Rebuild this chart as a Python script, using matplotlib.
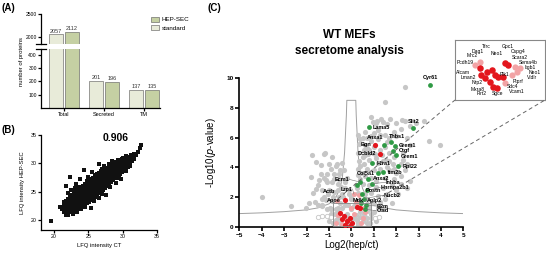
import matplotlib
matplotlib.use("Agg")
import matplotlib.pyplot as plt
from matplotlib.lines import Line2D
from matplotlib.patches import Patch, Rectangle

plt.rcParams["font.family"] = ["Liberation Sans", "DejaVu Sans"]

# ---------------------------------------------------------------------------
# Data
# ---------------------------------------------------------------------------

# (A) number of proteins
A_GROUPS = ["Total", "Secreted", "TM"]
A_STANDARD = [2057, 201, 137]
A_HEPSEC = [2112, 196, 135]

# (B) LFQ intensities, dense core given as columns of y values
B_CORE_X = [21.6, 21.9, 22.2, 22.5, 22.8, 23.1, 23.4, 23.7, 24.0, 24.3, 24.6,
            24.9, 25.2, 25.5, 25.8, 26.1, 26.4, 26.7, 27.0, 27.3, 27.6, 27.9,
            28.2, 28.5, 28.8, 29.1, 29.4, 29.7, 30.0, 30.3, 30.6, 30.9, 31.2, 31.5]
B_CORE_Y = [
    [21.5, 22.2], [21.3, 21.9, 22.6, 23.2], [21.6, 22.2, 22.8, 23.5],
    [21.5, 22.0, 22.6, 23.1, 23.7, 24.3], [21.8, 22.4, 23.0, 23.6, 24.2],
    [21.9, 22.5, 23.1, 23.7, 24.3, 24.9], [22.2, 22.8, 23.4, 24.0, 24.6],
    [22.3, 22.9, 23.5, 24.1, 24.7, 25.3], [22.7, 23.3, 23.9, 24.5, 25.1, 25.7],
    [22.8, 23.4, 24.0, 24.6, 25.2, 25.8], [23.2, 23.8, 24.4, 25.0, 25.6, 26.2],
    [23.4, 24.0, 24.6, 25.2, 25.8, 26.4], [23.7, 24.3, 24.9, 25.5, 26.1, 26.7],
    [24.0, 24.6, 25.2, 25.8, 26.4, 27.0], [24.3, 24.9, 25.5, 26.1, 26.7, 27.3],
    [24.5, 25.1, 25.7, 26.3, 26.9, 27.5], [24.9, 25.5, 26.1, 26.7, 27.3, 27.9],
    [25.1, 25.7, 26.3, 26.9, 27.5, 28.1], [25.5, 26.1, 26.7, 27.3, 27.9, 28.4],
    [25.8, 26.4, 27.0, 27.6, 28.2, 28.7], [26.1, 26.7, 27.3, 27.9, 28.5, 29.0],
    [26.5, 27.1, 27.7, 28.3, 28.9], [26.8, 27.4, 28.0, 28.6, 29.2],
    [27.2, 27.8, 28.4, 29.0, 29.5], [27.5, 28.1, 28.7, 29.3, 29.8],
    [27.9, 28.5, 29.1, 29.6, 30.1], [28.3, 28.9, 29.4, 29.9],
    [28.7, 29.2, 29.7, 30.2], [29.1, 29.6, 30.1, 30.5], [29.5, 30.0, 30.4],
    [29.9, 30.3, 30.7], [30.2, 30.6, 31.0], [30.5, 30.9], [30.9, 31.2],
]
B_OUT_X = [19.6, 21.2, 21.7, 22.3, 23.2, 24.4, 26.6, 27.5, 25.4, 29.7, 31.2, 32.2,
           32.5, 32.7, 22.0, 23.0, 25.0, 27.3, 28.5, 30.5, 29.0, 30.8, 26.5, 24.0,
           21.8, 22.8, 23.5, 24.8, 26.0, 27.0, 28.0, 29.3, 30.0, 24.5, 25.8, 27.0,
           28.2, 29.5, 30.5, 31.0, 22.5, 23.8, 25.6, 22.0, 23.4, 31.6, 31.9, 26.2,
           21.4, 20.9]
B_OUT_Y = [19.8, 21.9, 26.0, 27.6, 26.4, 28.8, 29.8, 24.4, 22.1, 27.3, 31.4, 32.0,
           32.7, 33.3, 24.8, 25.6, 27.6, 29.6, 30.4, 31.2, 26.5, 29.3, 23.8, 21.9,
           20.9, 21.0, 25.8, 26.9, 28.0, 29.0, 29.9, 30.6, 31.0, 22.3, 23.4, 24.6,
           25.8, 27.4, 28.6, 29.5, 25.2, 27.2, 28.5, 20.8, 21.4, 31.6, 31.5, 24.0,
           23.2, 22.3]
B_R = "0.906"

# (C) volcano plot
C_GREY_X = [-4.0, -2.68, -2.03, -1.74, -1.19, -1.59, -1.37, -1.0, -1.59, -1.37,
            -1.07, -0.78, -1.15, -0.85, -0.55, -1.29, -1.0, -0.78, -1.15, -0.85,
            -0.55, -0.48, -0.33, -0.62, -0.85, -1.22, -1.82, -1.45, -1.07, -0.78,
            -0.55, -1.2, -0.95, -1.3, -0.7, -0.6, -0.3, -0.2, -0.1, -0.5,
            2.38, 1.49, 0.86, 1.16, 1.43, 1.72, 2.28, 3.24, 3.47, 3.96, 0.98, 1.31,
            0.6, 1.0, 1.2, 1.5, 1.9, 2.2, 2.6, 2.9, 0.4, 0.6, 0.8, 1.2, 1.5, 1.7,
            0.5, 0.8, 1.1, 1.4, 1.7, 2.3, 0.4, 0.7, 1.0, 1.3, 1.7, 2.0, 2.4, 0.3,
            0.6, 0.9, 1.1, 1.5, 1.9, 2.2, 0.2, 0.5, 0.8, 1.1, 1.4, 1.8, 2.2, 0.3,
            0.6, 0.9, 1.2, 1.6, 2.0, 0.4, 0.7, 1.0, 1.3, -0.4, -0.1, 0.0, -0.3,
            0.1, -0.9, -0.6, -0.4, -0.2, 0.0, 0.2, 0.4, 0.6, 0.8, -0.7, -0.5, 0.0,
            0.3, 0.5, 0.7, -0.2, 0.9, -1.1, -1.3, -1.5,
            0.3, 0.35, 0.3, 0.35, 0.3, 0.45, 0.4, 0.25, 0.5, 0.55, 0.6, 0.55, 0.7,
            0.7, 0.75, 0.9, 0.95, 1.05, 1.0, 1.3, 1.6, 1.2, 1.35, 1.55, 1.9, 1.6,
            1.85, 2.5, 2.3, 2.6, 2.5, 2.0, 1.7, 1.3, 0.9, 1.1, 1.6, 2.0, 2.4, 1.9,
            2.2, 2.6, 2.5, 2.1, 1.5, 1.8, 1.2, 1.0, 1.4, 0.8,
            -0.8, -0.6, -0.3, -0.1, 0.1, 0.25, 0.4, 0.55, 0.7, 0.85, 0.3, -0.15,
            -0.6, -0.75, 0.2, 0.0, 0.7, 0.9, 1.1, -1.0, -0.9,
            -1.7, -1.5, -1.2, -0.9, -0.7, -0.4, -0.5, -0.3, -0.6, -0.8, -1.05,
            -1.3, -1.6, -1.9, -0.35, -0.15]
C_GREY_Y = [2.0, 1.4, 1.25, 4.8, 4.98, 4.35, 4.13, 4.25, 2.58, 3.58,
            3.58, 3.58, 3.13, 3.02, 3.25, 2.47, 2.47, 2.35, 1.8, 1.75,
            2.02, 2.69, 3.8, 4.25, 4.69, 4.91, 3.35, 3.13, 3.02, 3.25,
            3.58, 2.0, 1.3, 1.5, 1.2, 2.9, 2.6, 3.3, 2.2, 1.6,
            9.4, 8.36, 7.35, 7.13, 7.02, 7.25, 7.18, 7.13, 5.75, 5.53, 7.02, 7.25,
            6.4, 6.3, 6.5, 6.2, 6.4, 6.6, 6.8, 6.95, 5.9, 5.5, 5.2, 5.9, 5.4, 5.0,
            4.7, 4.5, 4.6, 4.4, 4.4, 4.5, 4.1, 3.9, 3.8, 3.9, 3.8, 3.6, 3.8, 3.5,
            3.4, 3.3, 3.1, 3.3, 3.2, 3.4, 2.8, 2.9, 2.8, 2.7, 2.6, 2.8, 2.9, 2.3,
            2.2, 2.3, 2.1, 2.2, 2.5, 1.7, 1.8, 1.6, 1.7, 2.2, 2.5, 1.9, 1.5,
            1.4, 1.2, 1.0, 1.3, 0.9, 1.2, 0.8, 1.0, 0.7, 1.2, 0.5, 0.3, 0.4,
            0.3, 0.4, 0.3, 0.2, 0.6, 1.2, 1.4, 1.5,
            6.2, 5.6, 5.0, 4.4, 3.9, 3.6, 3.2, 2.6, 6.0, 5.2, 4.8, 4.2, 6.0,
            5.3, 4.9, 5.8, 5.0, 4.9, 5.4, 5.2, 5.7, 4.3, 4.8, 4.5, 4.7, 4.0,
            4.2, 4.2, 5.0, 5.5, 6.0, 6.1, 6.0, 6.2, 6.1, 7.0, 6.9, 7.0, 7.1, 3.9,
            4.2, 3.1, 2.6, 2.2, 1.9, 1.6, 1.3, 1.0, 1.2, 1.4,
            0.3, 0.6, 0.7, 0.5, 0.6, 0.5, 0.7, 0.9, 0.6, 0.3, 0.15, 0.15,
            1.3, 0.9, 1.7, 2.0, 1.1, 0.9, 0.4, 0.4, 0.9,
            2.3, 2.8, 3.3, 3.9, 4.1, 4.3, 3.8, 3.0, 2.5, 2.0, 2.2,
            1.9, 1.7, 1.6, 2.0, 1.5]
C_OPEN_X = [-1.5, -1.3, -1.1, -0.9, 1.05, 1.25]
C_OPEN_Y = [0.7, 0.75, 0.72, 0.65, 0.6, 0.65]
C_PINK_X = [0.12, 0.19, 0.34, -0.03, 0.56, -0.6, -0.2, 0.1, 0.5, 0.6, -0.4, 0.3,
            -0.65, 0.45, -0.7]
C_PINK_Y = [2.2, 1.69, 2.13, 1.25, 1.25, 0.8, 0.5, 0.9, 0.6, 1.0, 0.2, 1.4,
            1.72, 0.25, 0.3]
C_RED_X = [1.08, 1.28, -0.3, -0.51, -0.33, -0.06, -0.18, 0.04, -0.30, 0.24, 0.38,
           -0.05, -0.42]
C_RED_Y = [5.53, 4.91, 1.8, 0.91, 0.73, 0.58, 0.40, 0.25, 0.15, 1.31, 1.25, 0.08,
           0.55]
C_GREEN_X = [3.51, 2.75, 0.79, 1.75, 1.46, 1.95, 1.85, 2.0, 2.08, 0.94, 1.43, 1.2,
             0.76, 0.38, 0.94, 0.71, 0.49, 0.56, 0.42, 0.64, 0.6, 0.27]
C_GREEN_Y = [9.53, 6.65, 6.69, 5.69, 5.47, 5.42, 5.1, 4.8, 4.07, 4.29, 3.69, 3.62,
             3.25, 3.02, 2.91, 2.47, 2.24, 1.91, 1.62, 1.47, 1.2, 2.8]

# labels: name, text position, alignment, optional leader-line end
C_LABEL_NAMES = ["Cyr61", "Slit2", "Lama5", "Thbs1", "Anxa1", "Grem1", "Ctgf",
                 "Grem1", "Rpl22", "Htra1", "Itm2b", "Col5a1", "Anxa2", "Ecm1",
                 "Inhba", "Hnrnpa2b1", "Postn", "Nucb2", "Aplp2", "B2m", "Ctsd",
                 "Bgn", "Dcbld2", "Lrp1", "Actb", "Apoe", "Mdk"]
C_LABEL_X = [3.55, 2.8, 0.95, 2.05, 1.08, 2.1, 2.1, 2.2, 2.3, 1.12, 1.6, 1.05,
             0.95, -0.1, 1.55, 1.3, 0.62, 1.45, 0.7, 1.15, 1.12, 0.9, 1.1,
             0.05, -0.7, -0.45, 0.05]
C_LABEL_Y = [10.0, 7.05, 6.69, 6.07, 6.02, 5.5, 5.15, 4.75, 4.07, 4.29, 3.69, 3.62,
             3.25, 3.2, 3.0, 2.65, 2.45, 2.13, 1.8, 1.4, 1.09, 5.53, 4.91,
             2.55, 2.35, 1.75, 1.75]
C_LABEL_HA = ["center", "center", "left", "center", "center", "left", "left",
              "left", "left", "left", "left", "right", "left", "right", "left",
              "left", "left", "left", "left", "left", "left", "right", "right",
              "right", "right", "right", "left"]
C_LEADER_X = [None] * 13 + [0.38, 0.94, 0.71, None, 0.56, 0.42, 0.64, 0.6,
                            None, None, 0.12, None, None, None]
C_LEADER_Y = [None] * 13 + [3.02, 2.91, 2.47, None, 1.91, 1.62, 1.47, 1.2,
                            None, None, 2.2, None, None, None]

# significance curves
C_CURVE_X = [-5, -4, -3, -2, -1.5, -1.0, -0.7, -0.5, -0.4, -0.3, -0.22, -0.2,
             0.2, 0.22, 0.3, 0.4, 0.5, 0.7, 1.0, 1.5, 2, 3, 4, 5]
C_CURVE_Y = [0.9, 0.95, 1.03, 1.15, 1.28, 1.55, 1.95, 2.6, 3.3, 5.0, 7.5, 8.5,
             8.5, 7.5, 5.0, 3.3, 2.6, 1.95, 1.55, 1.28, 1.15, 1.03, 0.95, 0.9]
C_BOX = (-0.83, 0.05, 0.87, 1.6)

# inset (zoom of the small box)
IN_RED_X = [-0.36, -0.23, -0.14, -0.07, -0.02, -0.26, -0.17, -0.11, -0.04, 0.11,
            0.17, 0.08, -0.33]
IN_RED_Y = [0.87, 0.78, 0.83, 0.70, 0.65, 0.61, 0.52, 0.39, 0.35, 1.0, 0.95,
            0.65, 0.70]
IN_PINK_X = [0.30, 0.40, 0.34, 0.11, -0.45, 0.24, -0.36]
IN_PINK_Y = [0.91, 0.87, 0.78, 0.48, 0.95, 0.70, 1.04]
IN_NAMES = ["Tfrc", "Gpc1", "Dag1", "Neo1", "Cspg4", "Mrc2", "Scara2", "Pcdh19",
            "Sema4b", "Itgb1", "Alcam", "Neo1", "Plk1", "Vldlr", "Lman2", "Ptprf",
            "Nrp2", "Sdc4", "Mxra8", "Vcam1", "Flrt2", "Sgce"]
IN_TX = [-0.23, 0.17, -0.40, -0.04, 0.36, -0.51, 0.40, -0.64, 0.55, 0.59, -0.68,
         0.68, 0.11, 0.62, -0.58, 0.36, -0.41, 0.25, -0.41, 0.34, -0.32, -0.02]
IN_TY = [1.43, 1.42, 1.29, 1.26, 1.29, 1.19, 1.16, 1.01, 1.01, 0.88, 0.77, 0.75,
         0.72, 0.62, 0.64, 0.52, 0.49, 0.39, 0.33, 0.26, 0.21, 0.21]

GREY = "#c6c6c6"
PINK = "#f2a3a5"
RED = "#e3161d"
GREEN = "#2f9a45"
STD_COL = "#e8ebd9"
HEP_COL = "#c5d0a3"

W, H = 546, 254


def fx(px):
    return px / W


def fy(py):
    return 1 - py / H


def _style(ax, lw=0.9, size=3.8):
    for s in ("top", "right"):
        ax.spines[s].set_visible(False)
    for s in ("left", "bottom"):
        ax.spines[s].set_linewidth(lw)
    ax.tick_params(width=lw, length=2, labelsize=size, pad=1)


# ---------------------------------------------------------------------------
# Panel A
# ---------------------------------------------------------------------------

def _panel_a(fig):
    ax_hi = fig.add_axes([fx(41), fy(43.9), fx(119), 29.9 / H])
    ax_lo = fig.add_axes([fx(41), fy(108), fx(119), 59 / H])
    pos = list(range(len(A_GROUPS)))
    for ax in (ax_hi, ax_lo):
        ax.bar([p - 0.2 for p in pos], A_STANDARD, width=0.33, color=STD_COL,
               edgecolor="#555555", linewidth=0.4)
        ax.bar([p + 0.2 for p in pos], A_HEPSEC, width=0.33, color=HEP_COL,
               edgecolor="#555555", linewidth=0.4)
        ax.set_xlim(-0.575, 2.4)
        _style(ax, size=3.6)
    ax_hi.set_ylim(1850, 2500)
    ax_hi.set_yticks([2000, 2500])
    ax_hi.spines["bottom"].set_visible(False)
    ax_hi.tick_params(axis="x", bottom=False, labelbottom=False)
    ax_lo.set_ylim(0, 443)
    ax_lo.set_yticks([100, 200, 300, 400])
    ax_lo.set_xticks(pos)
    ax_lo.set_xticklabels(A_GROUPS, fontsize=4)
    ax_lo.tick_params(axis="x", length=2)
    # break marks
    ax_hi.plot([-0.04, 0.04], [0, 0], transform=ax_hi.transAxes, color="black",
               lw=0.9, clip_on=False)
    ax_lo.plot([-0.04, 0.04], [1, 1], transform=ax_lo.transAxes, color="black",
               lw=0.9, clip_on=False)
    for p, v in zip(pos, A_STANDARD):
        ax = ax_hi if v > 1000 else ax_lo
        ax.text(p - 0.2, v + (15 if v > 1000 else 6), str(v), ha="center",
                va="bottom", fontsize=4, color="#333333")
    for p, v in zip(pos, A_HEPSEC):
        ax = ax_hi if v > 1000 else ax_lo
        ax.text(p + 0.2, v + (15 if v > 1000 else 6), str(v), ha="center",
                va="bottom", fontsize=4, color="#333333")
    fig.text(fx(22), fy(62), "number of proteins", rotation=90, ha="center",
             va="center", fontsize=4.2)
    handles = [Patch(facecolor=HEP_COL, edgecolor="#555555", linewidth=0.4),
               Patch(facecolor=STD_COL, edgecolor="#555555", linewidth=0.4)]
    fig.legend(handles, ["HEP-SEC", "standard"], loc="upper left",
               bbox_to_anchor=(fx(148), fy(14)), frameon=False, fontsize=4.5,
               handlelength=1.3, handleheight=0.9, handletextpad=0.5,
               labelspacing=0.4, borderaxespad=0)
    fig.text(fx(2), fy(8), "(A)", fontsize=7, fontweight="bold", va="center")


# ---------------------------------------------------------------------------
# Panel B
# ---------------------------------------------------------------------------

def _panel_b(fig):
    ax = fig.add_axes([fx(41), fy(230), fx(116), 95 / H])
    cx, cy = [], []
    for x, ys in zip(B_CORE_X, B_CORE_Y):
        cx += [x] * len(ys)
        cy += ys
    ax.scatter(cx, cy, s=13, marker="s", color="#111111", linewidths=0)
    ax.scatter(B_OUT_X, B_OUT_Y, s=5, marker="s", color="#111111", linewidths=0)
    ax.set_xlim(18.1, 35)
    ax.set_ylim(18.2, 35)
    ax.set_xticks([20, 25, 30, 35])
    ax.set_yticks([20, 25, 30, 35])
    _style(ax, size=3.8)
    ax.text(28.9, 34.4, B_R, ha="center", va="center", fontsize=7.5,
            fontweight="bold")
    ax.set_xlabel("LFQ intensity CT", fontsize=4.2, labelpad=3)
    ax.set_ylabel("LFQ intensity HEP-SEC", fontsize=4.2, labelpad=4)
    fig.text(fx(2), fy(130), "(B)", fontsize=7, fontweight="bold", va="center")


# ---------------------------------------------------------------------------
# Panel C
# ---------------------------------------------------------------------------

def _panel_c(fig):
    ax = fig.add_axes([fx(239.3), fy(227), fx(224), 149 / H])
    ax.plot(C_CURVE_X, C_CURVE_Y, color="#a0a0a0", lw=0.7, zorder=1)
    ax.scatter(C_GREY_X, C_GREY_Y, s=14, color=GREY, linewidths=0, zorder=2)
    ax.scatter(C_OPEN_X, C_OPEN_Y, s=10, facecolor="white", edgecolor=GREY,
               linewidths=0.6, zorder=2)
    ax.scatter(C_PINK_X, C_PINK_Y, s=13, color=PINK, linewidths=0, zorder=3)
    ax.scatter(C_RED_X, C_RED_Y, s=14, color=RED, linewidths=0, zorder=4)
    ax.scatter(C_GREEN_X, C_GREEN_Y, s=12, color=GREEN, linewidths=0, zorder=4)
    x0, y0, x1, y1 = C_BOX
    ax.add_patch(Rectangle((x0, y0), x1 - x0, y1 - y0, fill=False,
                           edgecolor="#888888", lw=0.6, zorder=5))
    for name, tx, ty, ha, lx, ly in zip(C_LABEL_NAMES, C_LABEL_X, C_LABEL_Y,
                                        C_LABEL_HA, C_LEADER_X, C_LEADER_Y):
        ax.text(tx, ty, name, ha=ha, va="center", fontsize=4, fontweight="bold",
                zorder=6)
        if lx is not None:
            ax.plot([tx, lx], [ty, ly], color="#777777", lw=0.4, zorder=5)
    ax.set_xlim(-5, 5)
    ax.set_ylim(0, 10)
    ax.set_xticks(range(-5, 6))
    ax.set_yticks(range(0, 11, 2))
    _style(ax, lw=1.2, size=4.6)
    ax.tick_params(length=3)
    for lab in ax.get_xticklabels() + ax.get_yticklabels():
        lab.set_fontweight("bold")
    ax.set_xlabel("Log2(hep/ct)", fontsize=7, labelpad=2)
    ax.set_ylabel(r"-Log10($\it{p}$-value)", fontsize=7, labelpad=6)

    # inset
    ins = fig.add_axes([fx(455), fy(100), fx(90), 60 / H])
    ins.scatter(IN_PINK_X, IN_PINK_Y, s=20, color=PINK, linewidths=0, zorder=2)
    ins.scatter(IN_RED_X, IN_RED_Y, s=22, color=RED, linewidths=0, zorder=3)
    for name, tx, ty in zip(IN_NAMES, IN_TX, IN_TY):
        ins.text(tx, ty, name, ha="center", va="center", fontsize=3.6, zorder=4)
    ins.set_xlim(x0, x1)
    ins.set_ylim(y0, y1)
    ins.set_xticks([])
    ins.set_yticks([])
    for s in ins.spines.values():
        s.set_color("#888888")
        s.set_linewidth(0.8)

    # dashed connectors: small box top corners -> inset bottom corners
    to_fig = fig.transFigure.inverted()
    for box_pt, in_pt in [((x0, y1), (0, 0)), ((x1, y1), (1, 0))]:
        a = to_fig.transform(ax.transData.transform(box_pt))
        b = to_fig.transform(ins.transAxes.transform(in_pt))
        fig.add_artist(Line2D([a[0], b[0]], [a[1], b[1]],
                              transform=fig.transFigure, color="#666666",
                              lw=0.7, linestyle=(0, (4, 3)), zorder=3))

    fig.text(fx(349), fy(35), "WT MEFs", ha="center", va="center", fontsize=8.5,
             fontweight="bold")
    fig.text(fx(349), fy(51), "secretome analysis", ha="center", va="center",
             fontsize=8.5, fontweight="bold")
    fig.text(fx(207), fy(8), "(C)", fontsize=7, fontweight="bold", va="center")


def main() -> None:
    fig = plt.figure(figsize=(W / 100, H / 100), dpi=100)
    fig.patch.set_facecolor("white")
    _panel_a(fig)
    _panel_b(fig)
    _panel_c(fig)
    fig.savefig("out.png", dpi=100)
    plt.close(fig)


if __name__ == "__main__":
    main()
